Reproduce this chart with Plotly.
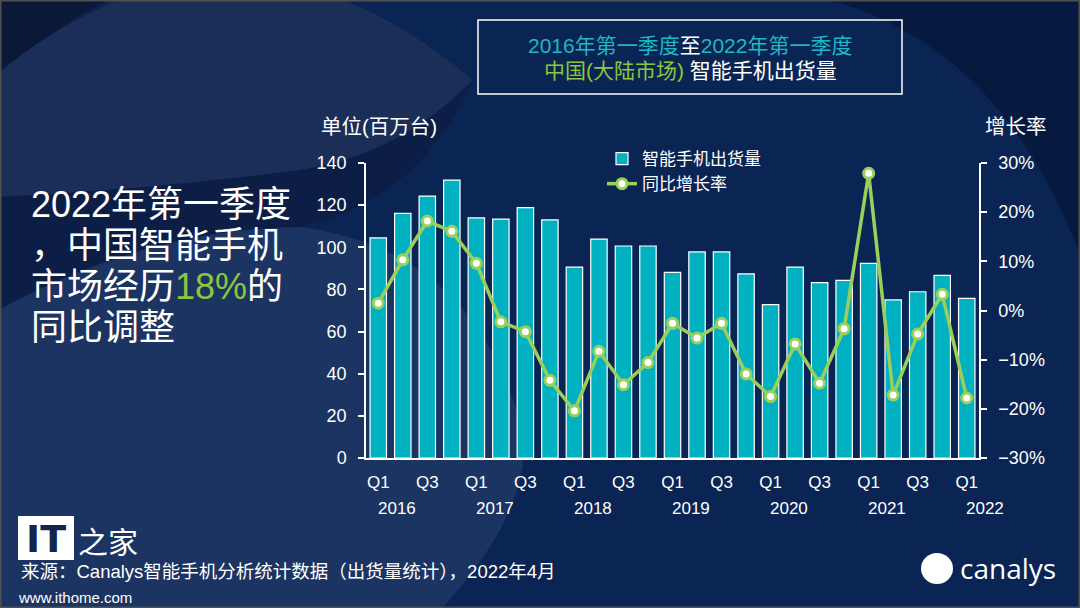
import plotly.graph_objects as go

# ---------------- data ----------------
quarters = ["2016Q1", "2016Q2", "2016Q3", "2016Q4",
            "2017Q1", "2017Q2", "2017Q3", "2017Q4",
            "2018Q1", "2018Q2", "2018Q3", "2018Q4",
            "2019Q1", "2019Q2", "2019Q3", "2019Q4",
            "2020Q1", "2020Q2", "2020Q3", "2020Q4",
            "2021Q1", "2021Q2", "2021Q3", "2021Q4",
            "2022Q1"]
shipments = [104.5, 116.1, 124.3, 131.9,
             114.0, 113.4, 118.8, 113.0,
             90.6, 103.9, 100.6, 100.6,
             88.1, 97.8, 97.8, 87.4,
             72.8, 90.6, 83.2, 84.3,
             92.4, 75.0, 78.9, 86.7,
             75.8]
growth = [1.5, 10.3, 18.2, 16.1,
          9.6, -2.3, -4.3, -14.2,
          -20.4, -8.3, -15.1, -10.6,
          -2.6, -5.6, -2.6, -12.9,
          -17.5, -6.8, -14.8, -3.7,
          27.9, -17.2, -4.8, 3.3,
          -17.8]
quarter_ticks = ["Q1", "Q3"]
years = ["2016", "2017", "2018", "2019", "2020", "2021", "2022"]

bar_name = "智能手机出货量"
line_name = "同比增长率"
left_title = "单位(百万台)"
right_title = "增长率"
source_text = "来源：Canalys智能手机分析统计数据（出货量统计），2022年4月"

# ---------------- geometry helpers ----------------
W, H = 1080, 608
L, R, T, B = 366, 101, 163, 150
PW, PH = W - L - R, H - T - B


def fx(x):
    return (x - L) / PW


def fy(y):
    return (H - B - y) / PH


def pt(x, y):
    return f"{fx(x):.5f},{fy(y):.5f}"


FONT = "Liberation Sans, Noto Sans CJK SC, sans-serif"
WHITE = "#ffffff"
TEAL = "#00b1c1"
GREEN = "#9bcf5b"
TITLE_TEAL = "#1fb6c5"
TITLE_GREEN = "#8cc63f"

fig = go.Figure()

fig.add_trace(go.Bar(
    x=quarters, y=shipments, name=bar_name,
    marker=dict(color=TEAL, line=dict(color=WHITE, width=1.2)),
    yaxis="y", hoverinfo="skip",
))
fig.add_trace(go.Scatter(
    x=quarters, y=growth, name=line_name, mode="lines+markers",
    line=dict(color=GREEN, width=3.5),
    marker=dict(size=10, color=WHITE, line=dict(color=GREEN, width=3)),
    yaxis="y2", hoverinfo="skip",
))

# tick positions for Q1/Q3
tickvals = [q for q in quarters if q[-2:] in quarter_ticks]
ticktext = [q[-2:] for q in tickvals]

shapes = []
annotations = []

# ---------- background decoration ----------
band = ("M " + pt(-2, 73) + " Q " + pt(236, -120) + " " + pt(473, 80)
        + " Q " + pt(400, 155) + " " + pt(300, 170)
        + " Q " + pt(150, 190) + " " + pt(-2, 197) + " Z")
shapes.append(dict(type="path", xref="paper", yref="paper", path=band,
                   fillcolor="#1a2e58", line=dict(width=0), layer="below"))
corner = "M " + pt(-2, -2) + " L " + pt(-2, 73) + " Q " + pt(50, 30) + " " + pt(112, -2) + " Z"
shapes.append(dict(type="path", xref="paper", yref="paper", path=corner,
                   fillcolor="#0b1836", line=dict(width=0), layer="below"))
dark = ("M " + pt(-2, 197) + " Q " + pt(150, 190) + " " + pt(300, 170)
        + " Q " + pt(400, 155) + " " + pt(473, 80)
        + " Q " + pt(420, 200) + " " + pt(300, 227)
        + " Q " + pt(150, 228) + " " + pt(-2, 310) + " Z")
shapes.append(dict(type="path", xref="paper", yref="paper", path=dark,
                   fillcolor="#0c1e46", line=dict(width=0), layer="below"))
lower = ("M " + pt(-2, 310) + " Q " + pt(150, 228) + " " + pt(300, 227)
         + " Q " + pt(480, 250) + " " + pt(525, 440)
         + " Q " + pt(525, 520) + " " + pt(440, 610)
         + " L " + pt(-2, 610) + " Z")
shapes.append(dict(type="path", xref="paper", yref="paper", path=lower,
                   fillcolor="#1b3462", line=dict(width=0), layer="below"))
# darker top-right corner
tr = "M " + pt(1082, -2) + " L " + pt(1082, 260) + " Q " + pt(1000, 40) + " " + pt(820, -2) + " Z"
shapes.append(dict(type="path", xref="paper", yref="paper", path=tr,
                   fillcolor="#061a40", line=dict(width=0), layer="below"))

# frame border
shapes.append(dict(type="rect", xref="paper", yref="paper",
                   x0=fx(0.5), x1=fx(W - 0.5), y0=fy(H - 0.5), y1=fy(0.5),
                   line=dict(color="#505050", width=2), layer="above"))

# title box
shapes.append(dict(type="rect", xref="paper", yref="paper",
                   x0=fx(478), x1=fx(902), y0=fy(94), y1=fy(20),
                   line=dict(color=WHITE, width=1.5), layer="above"))
annotations.append(dict(
    xref="paper", yref="paper", x=fx(690), y=fy(45), showarrow=False,
    text=f"<span style='color:{TITLE_TEAL}'>2016年第一季度</span>至"
         f"<span style='color:{TITLE_TEAL}'>2022年第一季度</span>",
    font=dict(family=FONT, size=21, color=WHITE), xanchor="center", yanchor="middle"))
annotations.append(dict(
    xref="paper", yref="paper", x=fx(690), y=fy(70), showarrow=False,
    text=f"<span style='color:{TITLE_GREEN}'>中国(大陆市场)</span> 智能手机出货量",
    font=dict(family=FONT, size=21, color=WHITE), xanchor="center", yanchor="middle"))

# axis titles
annotations.append(dict(xref="paper", yref="paper", x=fx(319), y=fy(127), showarrow=False,
                        text=left_title, xanchor="left", yanchor="middle",
                        font=dict(family=FONT, size=20.5, color=WHITE)))
annotations.append(dict(xref="paper", yref="paper", x=fx(1016), y=fy(127), showarrow=False,
                        text=right_title, xanchor="center", yanchor="middle",
                        font=dict(family=FONT, size=20.5, color=WHITE)))

# year labels under the Q1 ticks (positioned by category index)
n = len(quarters)
for yr in years:
    idx = quarters.index(yr + "Q1")
    annotations.append(dict(xref="paper", yref="paper", x=(idx + 0.5 + 0.75) / n, y=fy(508),
                            showarrow=False, text=yr, xanchor="center", yanchor="middle",
                            font=dict(family=FONT, size=17, color=WHITE)))

# left headline
head_lines = ["2022年第一季度", "，中国智能手机",
              f"市场经历<span style='color:{TITLE_GREEN}'>18%</span>的", "同比调整"]
for i, t in enumerate(head_lines):
    annotations.append(dict(xref="paper", yref="paper", x=fx(29), y=fy(204 + 41 * i),
                            showarrow=False, text=t, xanchor="left", yanchor="middle",
                            font=dict(family=FONT, size=36, color=WHITE)))

# source text
annotations.append(dict(xref="paper", yref="paper", x=fx(19), y=fy(571), showarrow=False,
                        text=source_text, xanchor="left", yanchor="middle",
                        font=dict(family=FONT, size=18.5, color=WHITE)))

# IT之家 watermark
shapes.append(dict(type="rect", xref="paper", yref="paper",
                   x0=fx(18), x1=fx(74), y0=fy(560), y1=fy(516),
                   fillcolor=WHITE, line=dict(width=0), layer="above"))
annotations.append(dict(xref="paper", yref="paper", x=fx(46), y=fy(539), showarrow=False,
                        text="<b>IT</b>", xanchor="center", yanchor="middle",
                        font=dict(family="DejaVu Sans", size=38, color="#14254d")))
annotations.append(dict(xref="paper", yref="paper", x=fx(108), y=fy(540), showarrow=False,
                        text="之家", xanchor="center", yanchor="middle",
                        font=dict(family="Noto Sans CJK SC", size=30, color=WHITE)))
annotations.append(dict(xref="paper", yref="paper", x=fx(16), y=fy(597), showarrow=False,
                        text="www.ithome.com", xanchor="left", yanchor="middle",
                        font=dict(family=FONT, size=15, color=WHITE)))

# canalys logo
shapes.append(dict(type="circle", xref="paper", yref="paper",
                   x0=fx(921), x1=fx(953), y0=fy(584), y1=fy(553),
                   fillcolor=WHITE, line=dict(width=0), layer="above"))
annotations.append(dict(xref="paper", yref="paper", x=fx(958), y=fy(568), showarrow=False,
                        text="canalys", xanchor="left", yanchor="middle",
                        font=dict(family="Open Sans", size=28, color=WHITE)))

fig.update_layout(
    width=W, height=H,
    margin=dict(l=L, r=R, t=T, b=B, pad=0),
    paper_bgcolor="#0a2553",
    plot_bgcolor="rgba(0,0,0,0)",
    font=dict(family=FONT, color=WHITE),
    bargap=0.33,
    showlegend=True,
    legend=dict(x=fx(602), y=fy(141), xanchor="left", yanchor="top",
                bgcolor="rgba(0,0,0,0)", font=dict(family=FONT, size=17, color=WHITE),
                itemwidth=30, tracegroupgap=0, traceorder="normal"),
    xaxis=dict(type="category", range=[-0.5, n - 0.5],
               showline=True, linecolor=WHITE, linewidth=1.5,
               ticks="", tickvals=tickvals, ticktext=ticktext,
               tickfont=dict(family=FONT, size=17, color=WHITE),
               showgrid=False, zeroline=False, ticklabelstandoff=8),
    yaxis=dict(range=[0, 140], dtick=20, showline=True, linecolor=WHITE, linewidth=1.5,
               ticks="outside", ticklen=6, tickcolor=WHITE, tickwidth=1.5,
               tickfont=dict(family=FONT, size=18, color=WHITE),
               showgrid=False, zeroline=False, ticklabelstandoff=8),
    yaxis2=dict(range=[-30, 30], dtick=10, ticksuffix="%", overlaying="y", side="right",
                showline=True, linecolor=WHITE, linewidth=1.5,
                ticks="outside", ticklen=6, tickcolor=WHITE, tickwidth=1.5,
                tickfont=dict(family=FONT, size=18, color=WHITE),
                showgrid=False, zeroline=False, ticklabelstandoff=8),
    shapes=shapes,
    annotations=annotations,
)

fig.write_html("out.html", config={"displayModeBar": False},
               post_script="document.body.style.margin='0px';")
